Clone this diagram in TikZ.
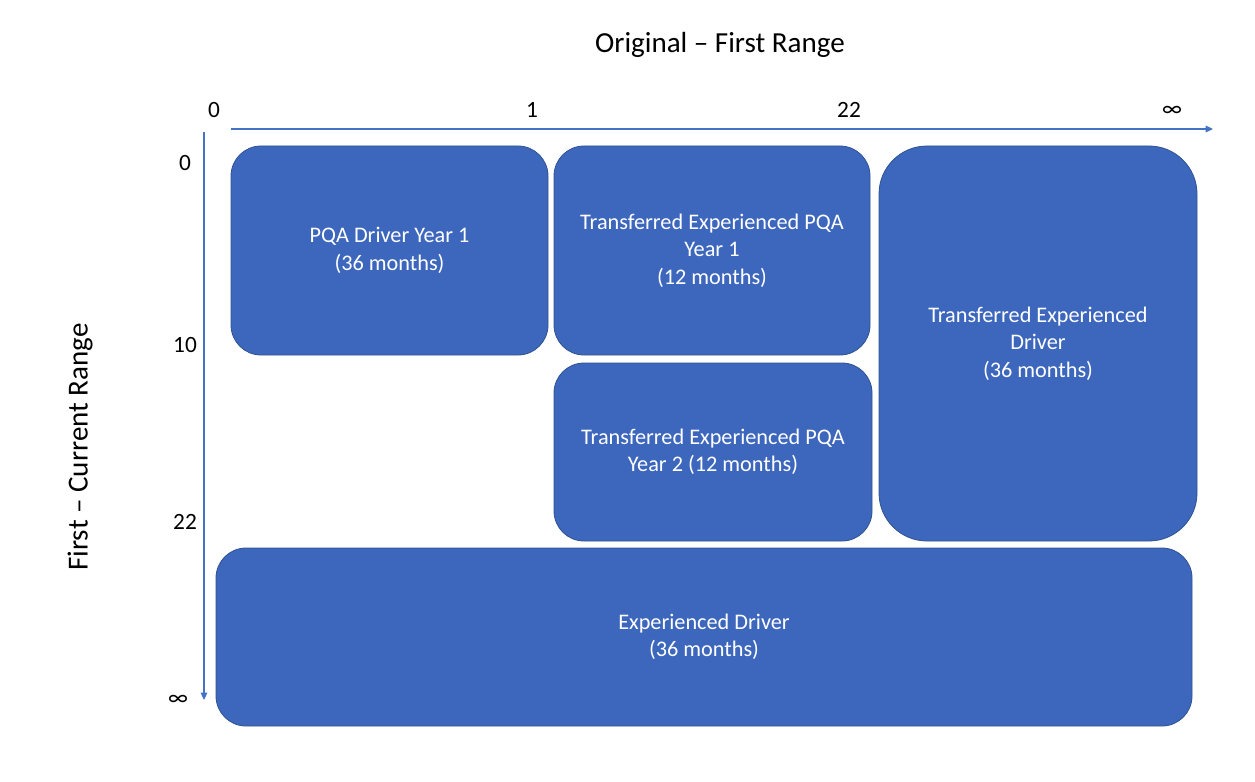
\documentclass[tikz,border=0pt]{standalone}
\usepackage{fontspec}
\setmainfont{Carlito}
\usetikzlibrary{arrows.meta}
\definecolor{boxfill}{HTML}{3D67BD}
\definecolor{boxline}{HTML}{2F528F}
\definecolor{axisblue}{HTML}{4472C4}
\tikzset{
  blk/.style={draw=boxline, line width=0.6pt, fill=boxfill, text=white, align=center,
    inner sep=0pt, rounded corners=22.5pt, font=\fontsize{16.7}{20.5}\selectfont},
  axisline/.style={draw=axisblue, line width=0.8pt, -{Triangle[width=5pt,length=5.5pt]}},
  tick/.style={font=\fontsize{17.5}{20}\selectfont, inner sep=0pt},
  axtitle/.style={font=\fontsize{21.8}{25}\selectfont, inner sep=0pt}
}
\begin{document}
\begin{tikzpicture}[x=0.75pt,y=-0.75pt]
\useasboundingbox (0,0) rectangle (1255,781);
% title labels
\node[axtitle] (xtitle) at (720,45) {Original – First Range};
\node[axtitle, rotate=90] (ytitle) at (80,447) {First – Current Range};
% axes
\coordinate (xs) at (231,129);
\coordinate (xe) at (1213,129);
\coordinate (ys) at (204,132);
\coordinate (ye) at (204,700);
\draw[axisline] (xs) -- (xe);
\draw[axisline] (ys) -- (ye);
% ticks
\node[tick] (tx0) at (214,110) {0};
\node[tick] (tx1) at (532,110) {1};
\node[tick] (tx22) at (849,110) {22};
\node[tick] (txinf) at (1172,111) {∞};
\node[tick] (ty0) at (185,163) {0};
\node[tick] (ty10) at (185,345) {10};
\node[tick] (ty22) at (185,522) {22};
\node[tick] (tyinf) at (178,700) {∞};
% boxes
\node[blk, minimum width=237.75pt, minimum height=156.75pt] (a) at (389.5,250.5)
  {PQA Driver Year 1\\(36 months)};
\node[blk, minimum width=237pt, minimum height=156.75pt] (b) at (712,250.5)
  {Transferred Experienced PQA\\Year 1\\(12 months)};
\node[blk, minimum width=238.5pt, minimum height=133.5pt] (c) at (713,452)
  {Transferred Experienced PQA\\Year 2 (12 months)};
\node[blk, rounded corners=36pt, minimum width=238.5pt, minimum height=296.25pt] (d) at (1038,343.5)
  {Transferred Experienced\\Driver\\(36 months)};
\node[blk, minimum width=732pt, minimum height=133.5pt] (e) at (704,637)
  {Experienced Driver\\(36 months)};
\end{tikzpicture}
\end{document}
